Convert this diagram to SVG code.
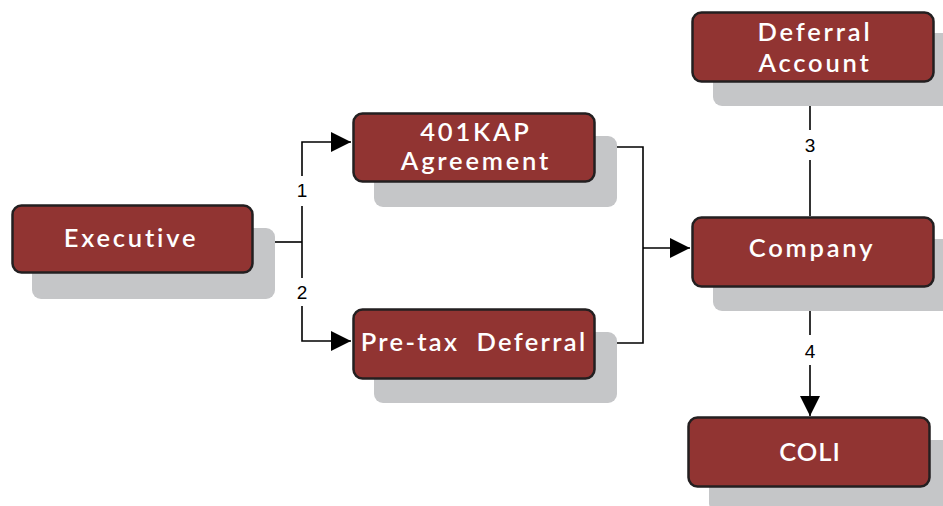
<svg xmlns="http://www.w3.org/2000/svg" width="943" height="506" viewBox="0 0 943 506">
<style>
.shadow{fill:#c5c6c8}
.box{fill:#913432;stroke:#231f20;stroke-width:2.5}
.t{font-family:Lato,"Liberation Sans",sans-serif;font-weight:600;font-size:25.5px;fill:#ffffff;text-anchor:middle;letter-spacing:2.8px}
.ln{fill:none;stroke:#000;stroke-width:1.6}
.lbl{font-family:"Liberation Sans",Arial,sans-serif;font-size:19px;fill:#000;text-anchor:middle}
</style>
<defs>
<marker id="ah" viewBox="0 0 20 20" refX="20" refY="10" markerWidth="20" markerHeight="20" markerUnits="userSpaceOnUse" orient="auto">
<path d="M0,0 L20,10 L0,20 Z" fill="#000"/>
</marker>
</defs>
<rect width="943" height="506" fill="#fff"/>
<g id="connectors">
<path class="ln" d="M275,242 H302"/>
<path class="ln" d="M302,176 V142 H351" marker-end="url(#ah)"/>
<path class="ln" d="M302,206 V278"/>
<path class="ln" d="M302,306 V341 H351" marker-end="url(#ah)"/>
<text class="lbl" x="302" y="197">1</text>
<text class="lbl" x="302" y="299">2</text>
<path class="ln" d="M617,147 H643 V343 H617"/>
<path class="ln" d="M643,248 H690" marker-end="url(#ah)"/>
<path class="ln" d="M810,106 V130"/>
<path class="ln" d="M810,160 V216"/>
<text class="lbl" x="810" y="152">3</text>
<path class="ln" d="M810,311 V335"/>
<path class="ln" d="M810,365 V416" marker-end="url(#ah)"/>
<text class="lbl" x="810" y="358">4</text>
</g>
<g id="executive">
<rect class="shadow" x="32" y="228" width="243" height="71" rx="9"/>
<rect class="box" x="12.5" y="205.5" width="240" height="67" rx="9"/>
<text class="t" x="131" y="247">Executive</text>
</g>
<g id="agreement">
<rect class="shadow" x="374" y="136" width="243" height="71" rx="9"/>
<rect class="box" x="353.5" y="113.5" width="241" height="68" rx="9"/>
<text class="t" x="476" y="141">401KAP</text>
<text class="t" x="476" y="170">Agreement</text>
</g>
<g id="pretax">
<rect class="shadow" x="374" y="332" width="243" height="71" rx="9"/>
<rect class="box" x="353.5" y="309.5" width="241" height="69" rx="9"/>
<text class="t" x="474" y="351" xml:space="preserve" style="letter-spacing:2.3px">Pre-tax  Deferral</text>
</g>
<g id="deferral-account">
<rect class="shadow" x="713" y="33" width="243" height="73" rx="9"/>
<rect class="box" x="692.5" y="12.5" width="241" height="69" rx="9"/>
<text class="t" x="815" y="41">Deferral</text>
<text class="t" x="815" y="72">Account</text>
</g>
<g id="company">
<rect class="shadow" x="713" y="239" width="243" height="72" rx="9"/>
<rect class="box" x="692.5" y="217.5" width="241" height="69" rx="9"/>
<text class="t" x="812" y="257">Company</text>
</g>
<g id="coli">
<rect class="shadow" x="709" y="440" width="243" height="72" rx="9"/>
<rect class="box" x="688.5" y="417.5" width="241" height="69" rx="9"/>
<text class="t" x="810" y="461" style="letter-spacing:1px">COLI</text>
</g>
</svg>
